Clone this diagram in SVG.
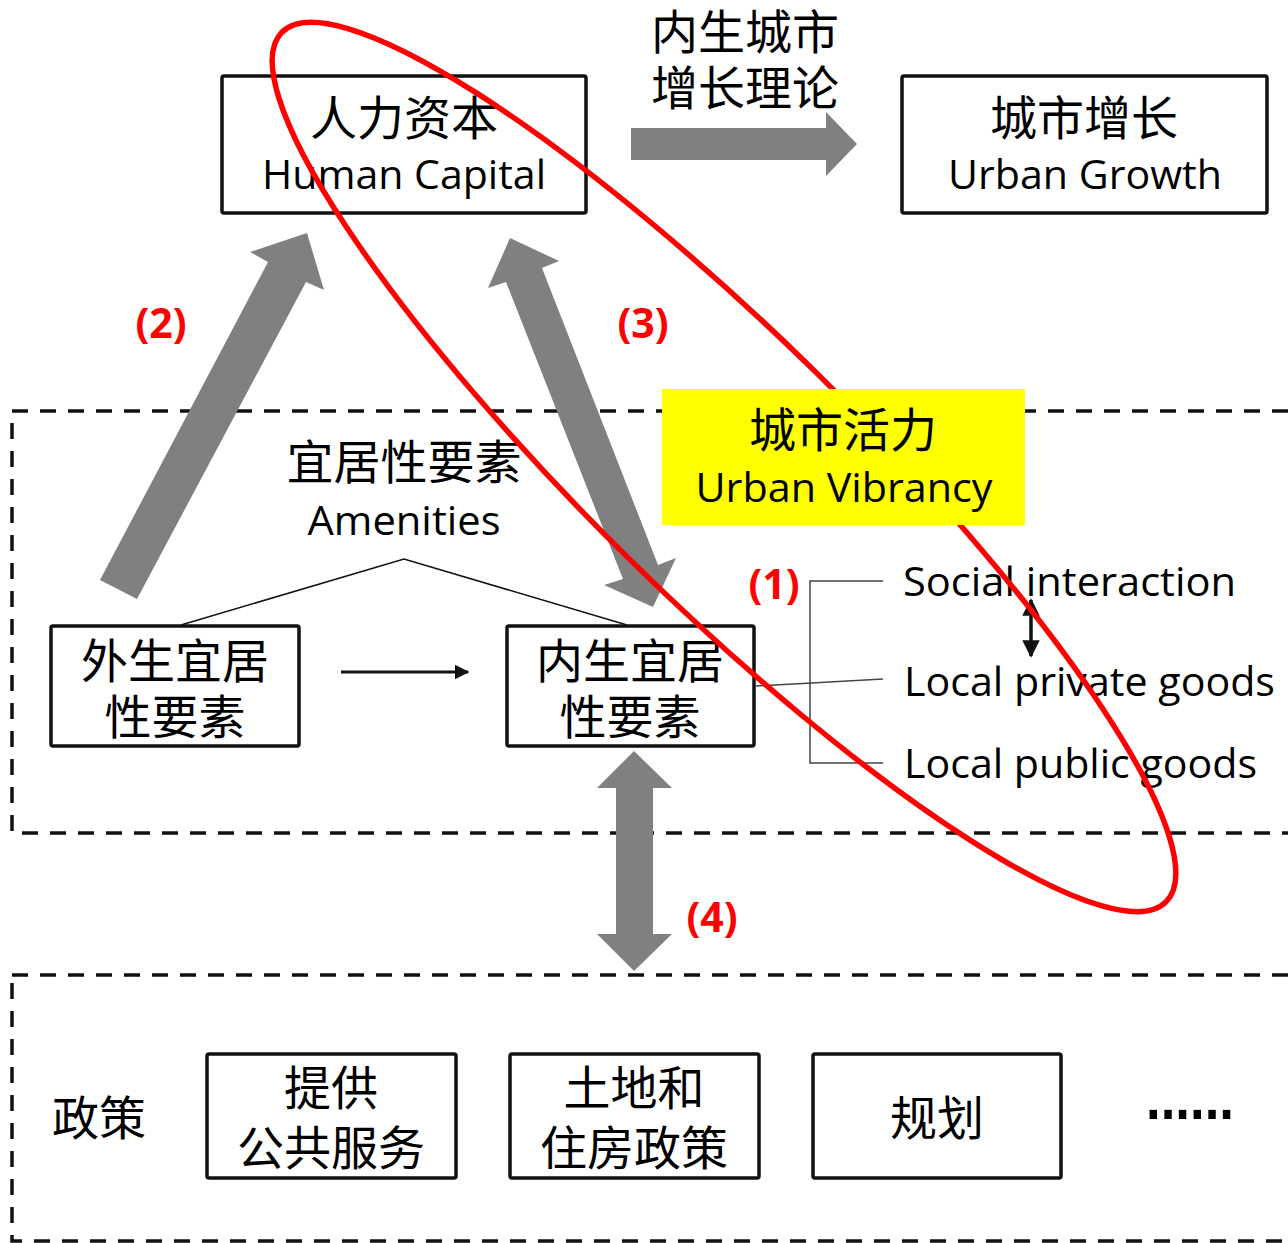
<svg xmlns="http://www.w3.org/2000/svg" width="1288" height="1243" viewBox="0 0 1288 1243">
<defs>
<style>
.box{fill:#fff;stroke:#111;stroke-width:3.5}
.zh{font-family:"Noto Sans CJK SC","Noto Sans",sans-serif;font-size:47px;fill:#000;text-anchor:middle}
.en{font-family:"Open Sans","Noto Sans","Liberation Sans",sans-serif;font-size:40px;fill:#000}
.red{font-family:"Open Sans","Liberation Sans",sans-serif;font-size:41px;font-weight:bold;fill:#ff0000;text-anchor:middle}
.dash{fill:none;stroke:#111;stroke-width:3.5;stroke-dasharray:16 12}
.gray{fill:#808080}
.thin{fill:none;stroke:#444;stroke-width:1.5}
</style>
<marker id="ah" viewBox="0 0 10 10" refX="9" refY="5" markerWidth="5" markerHeight="5" orient="auto-start-reverse" markerUnits="strokeWidth">
<path d="M0,0 L10,5 L0,10 z" fill="#111"/>
</marker>
</defs>
<rect width="1288" height="1243" fill="#fff"/>
<g id="regions">
<rect class="dash" x="12" y="411" width="1300" height="422"/>
<rect class="dash" x="12" y="975" width="1300" height="266"/>
</g>
<g id="human-capital">
<rect class="box" x="222" y="76" width="364" height="137" rx="2"/>
<text class="zh" x="404" y="135">人力资本</text>
<text class="en" x="404" y="189" text-anchor="middle" textLength="284" lengthAdjust="spacingAndGlyphs">Human Capital</text>
</g>
<g id="urban-growth">
<rect class="box" x="902" y="76" width="365" height="137" rx="2"/>
<text class="zh" x="1084" y="135">城市增长</text>
<text class="en" x="1085" y="189" text-anchor="middle" textLength="274" lengthAdjust="spacingAndGlyphs">Urban Growth</text>
</g>
<g id="theory-label">
<text class="zh" x="745" y="49">内生城市</text>
<text class="zh" x="745" y="105">增长理论</text>
</g>
<g id="exogenous">
<rect class="box" x="51" y="626" width="248" height="120" rx="2"/>
<text class="zh" x="175" y="678">外生宜居</text>
<text class="zh" x="175" y="734">性要素</text>
</g>
<g id="endogenous">
<rect class="box" x="507" y="626" width="247" height="120" rx="2"/>
<text class="zh" x="630" y="678">内生宜居</text>
<text class="zh" x="630" y="734">性要素</text>
</g>
<g id="amenities">
<text class="zh" x="404" y="479">宜居性要素</text>
<text class="en" x="404" y="535" text-anchor="middle" textLength="193" lengthAdjust="spacingAndGlyphs">Amenities</text>
</g>
<g id="amenity-types">
<text class="en" x="903" y="596" textLength="333" lengthAdjust="spacingAndGlyphs">Social interaction</text>
<text class="en" x="904" y="696" textLength="371" lengthAdjust="spacingAndGlyphs">Local private goods</text>
<text class="en" x="904" y="778" textLength="353" lengthAdjust="spacingAndGlyphs">Local public goods</text>
</g>
<g id="policy">
<text class="zh" x="52" y="1135" style="text-anchor:start">政策</text>
</g>
<g id="public-services">
<rect class="box" x="207" y="1054" width="249" height="124" rx="2"/>
<text class="zh" x="331" y="1105">提供</text>
<text class="zh" x="331" y="1165">公共服务</text>
</g>
<g id="land-housing">
<rect class="box" x="510" y="1054" width="249" height="124" rx="2"/>
<text class="zh" x="634" y="1105">土地和</text>
<text class="zh" x="634" y="1165">住房政策</text>
</g>
<g id="planning">
<rect class="box" x="813" y="1054" width="248" height="124" rx="2"/>
<text class="zh" x="937" y="1135">规划</text>
</g>
<g id="more">
<text x="1146" y="1119" font-family="'Liberation Sans',sans-serif" font-size="62" font-weight="bold" fill="#000" textLength="88" lengthAdjust="spacingAndGlyphs">......</text>
</g>
<g id="connectors">
<polygon class="gray" points="631,128 826,128 826,112 857,144 826,176 826,160 631,160"/>
<polygon class="gray" points="100,580 268,262 250,252 307,233 324,290 306,282 137,599"/>
<polygon class="gray" points="510,238 559,261 542,268 658,565 676,558 653,607 604,585 623,579 506,282 488,288"/>
<polygon class="gray" points="634,751 672,788 653,788 653,934 672,934 634,971 597,934 616,934 616,788 597,788"/>
<line x1="341" y1="672" x2="468" y2="672" stroke="#111" stroke-width="3" marker-end="url(#ah)"/>
<polyline class="thin" points="181,625 404,559 627,625" style="stroke:#111"/>
<polyline class="thin" points="883,581 810,581 810,763 883,763"/>
<line class="thin" x1="756" y1="686" x2="883" y2="679"/>
<line x1="1031" y1="600" x2="1031" y2="656" stroke="#111" stroke-width="3.5" marker-start="url(#ah)" marker-end="url(#ah)"/>
</g>
<g id="labels">
<text class="red" x="161" y="338">(2)</text>
<text class="red" x="643" y="338">(3)</text>
<text class="red" x="774" y="599">(1)</text>
<text class="red" x="712" y="932">(4)</text>
</g>
<g id="vibrancy-ellipse">
<ellipse cx="724" cy="467" rx="620" ry="132" transform="rotate(44.5 724 467)" fill="none" stroke="#ff0000" stroke-width="5.5"/>
</g>
<g id="urban-vibrancy">
<rect x="662" y="389" width="363" height="136" fill="#ffff00"/>
<text class="zh" x="843" y="447">城市活力</text>
<text class="en" x="844" y="502" text-anchor="middle" textLength="297" lengthAdjust="spacingAndGlyphs">Urban Vibrancy</text>
</g>
</svg>
